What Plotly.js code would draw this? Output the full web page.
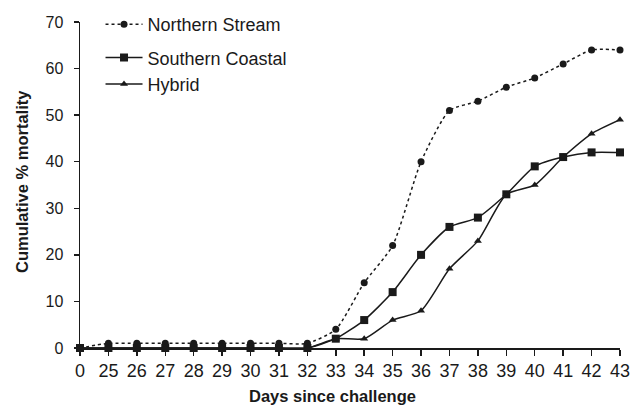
<!DOCTYPE html>
<html>
<head>
<meta charset="utf-8">
<script src="https://cdn.plot.ly/plotly-3.0.1.min.js"></script>
<style>html,body{margin:0;padding:0;background:#fff;}#chart{width:638px;height:406px;}</style>
</head>
<body>
<div id="chart"></div>
<script>
var days = ["0","25","26","27","28","29","30","31","32","33","34","35","36","37","38","39","40","41","42","43"];
var northernStream = [0,1,1,1,1,1,1,1,1,4,14,22,40,51,53,56,58,61,64,64];
var southernCoastal = [0,0,0,0,0,0,0,0,0,2,6,12,20,26,28,33,39,41,42,42];
var hybrid = [0,0,0,0,0,0,0,0,0,2,2,6,8,17,23,33,35,41,46,49];
var seriesNames = ["Northern Stream","Southern Coastal","Hybrid"];
var yTicks = [0,10,20,30,40,50,60,70];

var idx = days.map(function(d,i){return i;});
function tr(name, y, dash, sym, size, leg){
  return {x: idx, y: y, name: name, type:'scatter', mode:'lines+markers', cliponaxis:false, legend:leg,
    line:{color:'#1a1a1a', width:1.5, dash:dash, shape:'spline', smoothing:0.6},
    marker:{color:'#1a1a1a', symbol:sym, size:size}};
}
var data = [
  tr(seriesNames[0], northernStream, 'dot', 'circle', 7, 'legend'),
  tr(seriesNames[1], southernCoastal, 'solid', 'square', 8, 'legend2'),
  tr(seriesNames[2], hybrid, 'solid', 'triangle-up', 7, 'legend2')
];
var legFont = {size:18, color:'#1a1a1a'};
var layout = {
  width:638, height:406,
  margin:{l:80, r:18, t:22, b:58, autoexpand:false},
  paper_bgcolor:'#fff', plot_bgcolor:'#fff',
  font:{family:'Liberation Sans, Arial, sans-serif', size:15, color:'#1a1a1a'},
  showlegend:true,
  legend:{x:0.038, y:1.049, xanchor:'left', yanchor:'top', bgcolor:'rgba(0,0,0,0)', font:legFont, itemwidth:37},
  legend2:{x:0.038, y:0.947, xanchor:'left', yanchor:'top', bgcolor:'rgba(0,0,0,0)', font:legFont, itemwidth:37},
  xaxis:{range:[0,19], tickmode:'array', tickvals:idx, ticktext:days, showgrid:false, zeroline:false,
    showline:true, linecolor:'#1a1a1a', linewidth:1.5, ticks:'outside', ticklen:6, tickcolor:'#1a1a1a', tickwidth:1.5,
    tickfont:{size:18}, automargin:false},
  yaxis:{range:[0,70], tickmode:'array', tickvals:yTicks, showgrid:false, zeroline:false,
    showline:true, linecolor:'#1a1a1a', linewidth:1.5, ticks:'outside', ticklen:5, tickcolor:'#1a1a1a', tickwidth:1.5,
    tickfont:{size:16}, ticklabelstandoff:7, automargin:false},
  annotations:[
    {text:'<b>Days since challenge</b>', xref:'paper', yref:'paper', x:(332-80)/540, y:-(396-348)/326, xanchor:'center', yanchor:'middle', showarrow:false, font:{size:16.5}},
    {text:'<b>Cumulative % mortality</b>', xref:'paper', yref:'paper', x:-(80-22)/540, y:(348-182)/326, xanchor:'center', yanchor:'middle', textangle:-90, showarrow:false, font:{size:16.5}}
  ]
};
Plotly.newPlot('chart', data, layout, {displayModeBar:false, staticPlot:true});
</script>
</body>
</html>
